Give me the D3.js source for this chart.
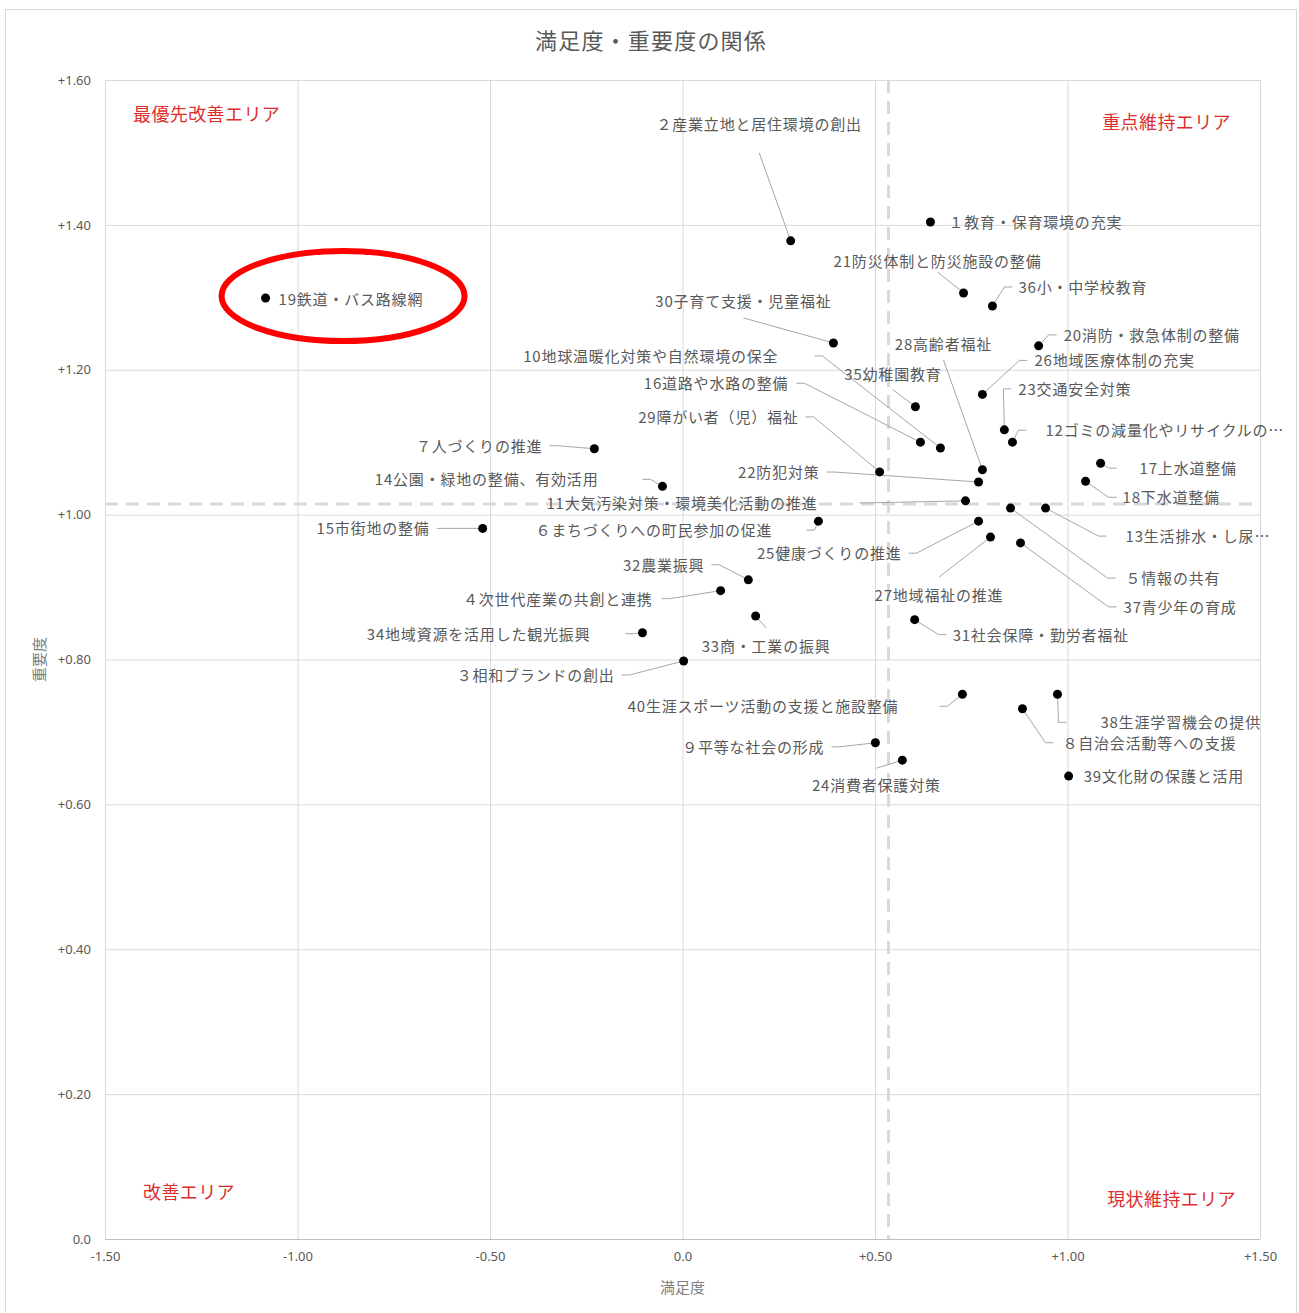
<!DOCTYPE html>
<html lang="ja">
<head>
<meta charset="utf-8">
<title>満足度・重要度の関係</title>
<script src="https://cdn.jsdelivr.net/npm/d3@7"></script>
<style>
  html, body { margin: 0; padding: 0; background: #fff; }
  svg { display: block; }
</style>
</head>
<body>
<svg id="chart" width="1299" height="1313"></svg>
<script>
// ---- data -------------------------------------------------------------
const itemNames = [
  "１教育・保育環境の充実", "２産業立地と居住環境の創出", "３相和ブランドの創出",
  "４次世代産業の共創と連携", "５情報の共有", "６まちづくりへの町民参加の促進",
  "７人づくりの推進", "８自治会活動等への支援", "９平等な社会の形成",
  "10地球温暖化対策や自然環境の保全", "11大気汚染対策・環境美化活動の推進",
  "12ゴミの減量化やリサイクルの…", "13生活排水・し尿…", "14公園・緑地の整備、有効活用",
  "15市街地の整備", "16道路や水路の整備", "17上水道整備", "18下水道整備",
  "19鉄道・バス路線網", "20消防・救急体制の整備", "21防災体制と防災施設の整備",
  "22防犯対策", "23交通安全対策", "24消費者保護対策", "25健康づくりの推進",
  "26地域医療体制の充実", "27地域福祉の推進", "28高齢者福祉", "29障がい者（児）福祉",
  "30子育て支援・児童福祉", "31社会保障・勤労者福祉", "32農業振興", "33商・工業の振興",
  "34地域資源を活用した観光振興", "35幼稚園教育", "36小・中学校教育", "37青少年の育成",
  "38生涯学習機会の提供", "39文化財の保護と活用", "40生涯スポーツ活動の支援と施設整備"
];

// 満足度 (x)
const satisfaction = [
  0.644, 0.281, 0.003, 0.099, 0.852, 0.353, -0.229, 0.883, 0.501, 0.670,
  0.735, 0.857, 0.943, -0.052, -0.519, 0.618, 1.086, 1.047, -1.083, 0.925,
  0.730, 0.769, 0.836, 0.571, 0.769, 0.779, 0.800, 0.779, 0.512, 0.392,
  0.603, 0.171, 0.190, -0.104, 0.605, 0.805, 0.878, 0.974, 1.003, 0.727
];

// 重要度 (y)
const importance = [
  1.404, 1.378, 0.798, 0.895, 1.009, 0.991, 1.091, 0.732, 0.685, 1.092,
  1.019, 1.100, 1.009, 1.039, 0.981, 1.100, 1.071, 1.046, 1.299, 1.233,
  1.306, 1.045, 1.117, 0.661, 0.991, 1.166, 0.969, 1.062, 1.059, 1.237,
  0.855, 0.910, 0.860, 0.837, 1.149, 1.288, 0.961, 0.752, 0.639, 0.752
];

const xTicks = [-1.5, -1.0, -0.5, 0, 0.5, 1.0, 1.5];
const xTickLabels = ["-1.50", "-1.00", "-0.50", "0.0", "+0.50", "+1.00", "+1.50"];
const yTicks = [0, 0.2, 0.4, 0.6, 0.8, 1.0, 1.2, 1.4, 1.6];
const yTickLabels = ["0.0", "+0.20", "+0.40", "+0.60", "+0.80", "+1.00", "+1.20", "+1.40", "+1.60"];

const chartTitle = "満足度・重要度の関係";
const xTitle = "満足度";
const yTitle = "重要度";
const areaNames = ["最優先改善エリア", "重点維持エリア", "改善エリア", "現状維持エリア"];

// ---- label layout: [text-anchor, dx, dy from point (px), leader gap or null] ----
const labelLayout = [
  ["start", 18, 0, null], ["middle", -31.5, -117, 21], ["end", -69, 14, 7],
  ["end", -68, 8, 9], ["start", 115, 70, 10], ["end", -46, 9, 34],
  ["end", -52, -3, 7], ["start", 40, 34, 9], ["end", -51, 4, 7],
  ["end", -162, -92, 36], ["end", -148, 2, 42], ["start", 33, -12, 19],
  ["start", 80, 28, 19], ["end", -64, -7, 44], ["end", -53, 0, 7],
  ["end", -132, -59, 8], ["start", 39, 5, 23], ["start", 37, 16, 6],
  ["start", 13, 1, null], ["start", 25, -11, 7], ["middle", -26, -32, 3],
  ["end", -159, -10, 7], ["start", 14, -41, 7], ["middle", -26, 25, 9],
  ["end", -77, 32, 7], ["start", 52, -34, 7], ["middle", -51.5, 58, 10],
  ["middle", -39, -126, 8], ["end", -81, -55, 7], ["middle", -90, -42, 9],
  ["start", 38, 15, 6], ["end", -44, -15, 7], ["middle", 10.5, 30, 10],
  ["end", -52, 1, 35], ["middle", -22.5, -33, 8], ["start", 26, -19, 6],
  ["start", 103, 64, 7], ["start", 43, 28, 34], ["start", 15, 0, null],
  ["end", -64, 12, 41]
];

// ---- drawing ----------------------------------------------------------
const svg = d3.select("#chart");
const W = 1299, H = 1313;
const plot = { left: 105, right: 1260, top: 80, bottom: 1239 };

const x = d3.scaleLinear().domain([-1.5, 1.5]).range([plot.left, plot.right]);
const y = d3.scaleLinear().domain([0, 1.6]).range([plot.bottom, plot.top]);

const textGray = "#595959";
const gridGray = "#d9d9d9";
const cjk = "'Noto Sans CJK JP', 'Noto Sans', sans-serif";
const latin = "'Noto Sans', 'Open Sans', sans-serif";

svg.append("rect").attr("width", W).attr("height", H).attr("fill", "#fff");

// chart frame
svg.append("rect")
  .attr("x", 5.5).attr("y", 9.5).attr("width", 1291).attr("height", 1320)
  .attr("fill", "none").attr("stroke", gridGray).attr("stroke-width", 1);

// title
svg.append("text")
  .attr("x", 651).attr("y", 39)
  .attr("text-anchor", "middle").attr("dominant-baseline", "central")
  .style("font-family", cjk).style("font-size", "22px").style("letter-spacing", "1.2px")
  .attr("fill", textGray).text(chartTitle);

// grid lines
const gx = svg.append("g").attr("transform", `translate(0,${plot.bottom})`)
  .call(d3.axisBottom(x).tickValues(xTicks).tickSize(-(plot.bottom - plot.top)).tickFormat(""));
gx.select(".domain").remove();
gx.selectAll(".tick line").attr("stroke", gridGray).attr("stroke-width", 1);

const gy = svg.append("g").attr("transform", `translate(${plot.left},0)`)
  .call(d3.axisLeft(y).tickValues(yTicks).tickSize(-(plot.right - plot.left)).tickFormat(""));
gy.select(".domain").remove();
gy.selectAll(".tick line").attr("stroke", gridGray).attr("stroke-width", 1);

// bottom axis line
svg.append("line")
  .attr("x1", plot.left).attr("x2", plot.right)
  .attr("y1", y(0) + 0.5).attr("y2", y(0) + 0.5)
  .attr("stroke", "#bfbfbf").attr("stroke-width", 1);

// tick labels
const ax = svg.append("g").attr("transform", `translate(0,${plot.bottom})`)
  .call(d3.axisBottom(x).tickValues(xTicks).tickSize(0).tickPadding(13)
    .tickFormat((d, i) => xTickLabels[i]));
ax.select(".domain").remove();
ax.selectAll("text").style("font-family", latin).style("font-size", "13px").attr("fill", textGray);

const ay = svg.append("g").attr("transform", `translate(${plot.left},0)`)
  .call(d3.axisLeft(y).tickValues(yTicks).tickSize(0).tickPadding(14)
    .tickFormat((d, i) => yTickLabels[i]));
ay.select(".domain").remove();
ay.selectAll("text").style("font-family", latin).style("font-size", "13px").attr("fill", textGray);

// axis titles
svg.append("text")
  .attr("x", (plot.left + plot.right) / 2).attr("y", 1286)
  .attr("text-anchor", "middle").attr("dominant-baseline", "central")
  .style("font-family", cjk).style("font-size", "15px")
  .attr("fill", "#7f7f7f").text(xTitle);

svg.append("text")
  .attr("transform", `translate(38,${(plot.top + plot.bottom) / 2}) rotate(-90)`)
  .attr("text-anchor", "middle").attr("dominant-baseline", "central")
  .style("font-family", cjk).style("font-size", "15px")
  .attr("fill", "#7f7f7f").text(yTitle);

// average lines
const meanSat = d3.mean(satisfaction);
const meanImp = d3.mean(importance);
svg.append("line")
  .attr("x1", x(meanSat)).attr("x2", x(meanSat))
  .attr("y1", plot.top).attr("y2", plot.bottom)
  .attr("stroke", gridGray).attr("stroke-width", 3).attr("stroke-dasharray", "13,8");
svg.append("line")
  .attr("x1", plot.left).attr("x2", plot.right)
  .attr("y1", y(meanImp)).attr("y2", y(meanImp))
  .attr("stroke", gridGray).attr("stroke-width", 3).attr("stroke-dasharray", "13,8");

// quadrant names
const areaColor = "#dd2e2e";
const areaPos = [
  { x: plot.left + 28, y: plot.top + 33, a: "start" },
  { x: plot.right - 29, y: plot.top + 41, a: "end" },
  { x: plot.left + 38, y: plot.bottom - 48, a: "start" },
  { x: plot.right - 24, y: plot.bottom - 41, a: "end" }
];
svg.append("g").selectAll("text").data(areaNames).join("text")
  .attr("x", (d, i) => areaPos[i].x).attr("y", (d, i) => areaPos[i].y)
  .attr("text-anchor", (d, i) => areaPos[i].a).attr("dominant-baseline", "central")
  .style("font-family", cjk).style("font-size", "18px").style("letter-spacing", "0.4px")
  .attr("fill", areaColor).text(d => d);

// items
const items = itemNames.map((name, i) => ({
  name, sx: satisfaction[i], iy: importance[i], lay: labelLayout[i]
}));

const leaderG = svg.append("g");
const labelG = svg.append("g");
const dotG = svg.append("g");

items.forEach(d => {
  const px = x(d.sx), py = y(d.iy);
  const [anchor, dx, dy, gap] = d.lay;
  const tx = px + dx, ty = py + dy;
  const t = labelG.append("text")
    .attr("x", tx).attr("y", ty - 0.5)
    .attr("text-anchor", anchor).attr("dominant-baseline", "central")
    .style("font-family", cjk).style("font-size", "15px").style("letter-spacing", "0.8px")
    .attr("fill", textGray).text(d.name);
  if (gap === null) return;
  const bb = t.node().getBBox();
  let pts;
  if (anchor === "start") {
    const a = bb.x - gap;
    pts = [[a, ty], [a - 8, ty], [px, py]];
  } else if (anchor === "end") {
    const a = bb.x + bb.width + gap;
    pts = [[a, ty], [a + 8, ty], [px, py]];
  } else {
    const a = py > ty ? ty + 8 + gap : ty - 8 - gap;
    pts = [[tx, a], [px, py]];
  }
  leaderG.append("path")
    .attr("d", d3.line()(pts))
    .attr("fill", "none").attr("stroke", "#a6a6a6").attr("stroke-width", 1);
});

dotG.selectAll("circle").data(items).join("circle")
  .attr("cx", d => x(d.sx)).attr("cy", d => y(d.iy))
  .attr("r", 4.5).attr("fill", "#000");

// highlight ring around item 19
const hi = items[18];
svg.append("ellipse")
  .attr("cx", x(hi.sx) + 77.5).attr("cy", y(hi.iy) - 2)
  .attr("rx", 121.5).attr("ry", 45)
  .attr("fill", "none").attr("stroke", "#ff0000").attr("stroke-width", 6);
</script>
</body>
</html>
